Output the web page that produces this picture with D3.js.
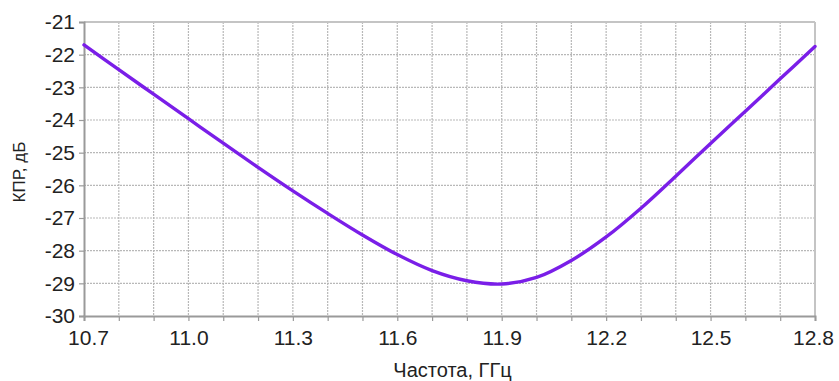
<!DOCTYPE html>
<html>
<head>
<meta charset="utf-8">
<script src="https://cdn.jsdelivr.net/npm/d3@7"></script>
<style>
  body { margin: 0; background: #fff; }
  text { font-family: "Liberation Sans", Arial, sans-serif; fill: #222; }
</style>
</head>
<body>
<svg id="chart"></svg>
<script>
// частота, ГГц
var freq = [10.7, 10.8, 10.9, 11.0, 11.1, 11.2, 11.3, 11.4, 11.5, 11.6, 11.7,
            11.8, 11.9, 12.0, 12.1, 12.2, 12.3, 12.4, 12.5, 12.6, 12.7, 12.8];
// КПР, дБ
var kpr = [-21.70, -22.46, -23.21, -23.96, -24.71, -25.45, -26.17, -26.86, -27.52, -28.12, -28.61,
           -28.92, -29.02, -28.82, -28.30, -27.58, -26.70, -25.72, -24.72, -23.73, -22.74, -21.75];

var xTickLabels = ["10.7", "11.0", "11.3", "11.6", "11.9", "12.2", "12.5", "12.8"];
var xGrid = [10.8, 10.9, 11.0, 11.1, 11.2, 11.3, 11.4, 11.5, 11.6, 11.7, 11.8, 11.9,
             12.0, 12.1, 12.2, 12.3, 12.4, 12.5, 12.6, 12.7];
var yTicks = [-21, -22, -23, -24, -25, -26, -27, -28, -29, -30];

var W = 839, H = 381;
var pLeft = 84, pRight = 815, pTop = 22, pBottom = 316;

var svg = d3.select("#chart").attr("width", W).attr("height", H);

var x = d3.scaleLinear().domain([10.7, 12.8]).range([pLeft, pRight]);
var y = d3.scaleLinear().domain([-30, -21]).range([pBottom, pTop]);

// grid
svg.append("g").selectAll("line")
    .data(xGrid).enter().append("line")
    .attr("x1", function(d){ return x(d); }).attr("x2", function(d){ return x(d); })
    .attr("y1", pTop).attr("y2", pBottom)
    .attr("stroke", "#b8b8b8").attr("stroke-width", 1.2)
    .attr("stroke-dasharray", "2,1");

svg.append("g").selectAll("line")
    .data(yTicks.slice(1, -1)).enter().append("line")
    .attr("x1", pLeft).attr("x2", pRight)
    .attr("y1", function(d){ return y(d); }).attr("y2", function(d){ return y(d); })
    .attr("stroke", "#b8b8b8").attr("stroke-width", 1.2)
    .attr("stroke-dasharray", "2,1");

// frame: top and right lighter
svg.append("line").attr("x1", pLeft).attr("x2", pRight).attr("y1", pTop).attr("y2", pTop)
    .attr("stroke", "#c4c4c4").attr("stroke-width", 2);
svg.append("line").attr("x1", pRight).attr("x2", pRight).attr("y1", pTop).attr("y2", pBottom)
    .attr("stroke", "#c4c4c4").attr("stroke-width", 2);

// axes
var xAxis = d3.axisBottom(x)
    .tickValues(d3.range(0, 22).map(function(i){ return 10.7 + i * 0.1; }))
    .tickSize(5)
    .tickFormat(function(d){
        var s = d.toFixed(1);
        return xTickLabels.indexOf(s) >= 0 ? s : "";
    });
var gx = svg.append("g").attr("transform", "translate(0," + pBottom + ")").call(xAxis);
gx.attr("font-family", null).attr("font-size", null);
gx.select(".domain").attr("stroke", "#9a9a9a").attr("stroke-width", 2);
gx.selectAll(".tick line").attr("stroke", "#9a9a9a").attr("stroke-width", 1.2);
gx.selectAll(".tick text").attr("font-size", "21px").attr("dy", "0").attr("y", 29)
    .attr("fill", "#222");
// first label sits a little inside the frame, as in the reference
gx.selectAll(".tick text").filter(function(d){ return d.toFixed(1) === "10.7"; }).attr("x", 4);
gx.selectAll(".tick text").filter(function(d){ return d.toFixed(1) === "12.8"; }).attr("x", -2);

var yAxis = d3.axisLeft(y).tickValues(yTicks).tickSize(5).tickPadding(4)
    .tickFormat(function(d){ return String(d); });
var gy = svg.append("g").attr("transform", "translate(" + pLeft + ",0)").call(yAxis);
gy.attr("font-family", null).attr("font-size", null);
gy.select(".domain").attr("stroke", "#9a9a9a").attr("stroke-width", 2);
gy.selectAll(".tick line").attr("stroke", "#9a9a9a").attr("stroke-width", 1.2);
gy.selectAll(".tick text").attr("font-size", "21px").attr("fill", "#222");

// curve
var line = d3.line()
    .x(function(d, i){ return x(freq[i]); })
    .y(function(d){ return y(d); })
    .curve(d3.curveCatmullRom.alpha(0.5));

svg.append("path").datum(kpr)
    .attr("d", line)
    .attr("fill", "none")
    .attr("stroke", "#7a1ee8")
    .attr("stroke-width", 3.4)
    .attr("stroke-linecap", "round");

// titles
svg.append("text")
    .attr("x", (pLeft + pRight) / 2 + 3).attr("y", 377)
    .attr("text-anchor", "middle").attr("font-size", "20px")
    .text("Частота, ГГц");

svg.append("text")
    .attr("transform", "translate(25," + ((pTop + pBottom) / 2 + 3) + ") rotate(-90)")
    .attr("text-anchor", "middle").attr("font-size", "17px")
    .text("КПР, дБ");
</script>
</body>
</html>
